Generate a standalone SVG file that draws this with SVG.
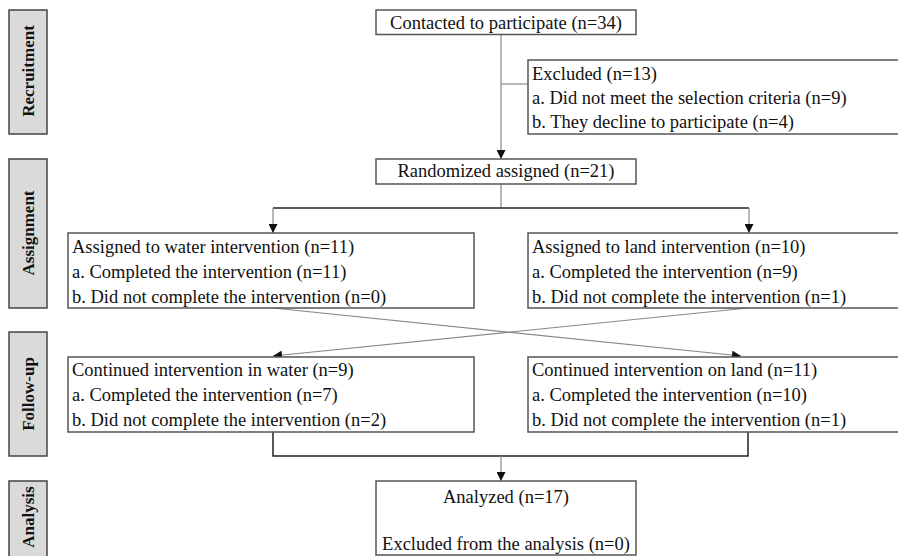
<svg xmlns="http://www.w3.org/2000/svg" width="898" height="556" viewBox="0 0 898 556">
<style>
.side rect{fill:#dadada;stroke:#444;stroke-width:1.5}
.side text{font-weight:bold;font-size:17px;fill:#111;text-anchor:middle}
.box rect{fill:#fff;stroke:#555;stroke-width:1.5}
.box text{font-size:18.5px;fill:#111}
.c{text-anchor:middle}
.thin{fill:none;stroke:#888;stroke-width:1.2}
.bold{fill:none;stroke:#222;stroke-width:1.5}
</style>
<defs>
<marker id="arr" viewBox="0 0 10 10" refX="10" refY="5" markerWidth="9" markerHeight="9" markerUnits="userSpaceOnUse" orient="auto">
<path d="M0,0 L10,5 L0,10 z" fill="#111"/>
</marker>
</defs>
<rect x="0" y="0" width="898" height="556" fill="#fff"/>
<g font-family="Liberation Serif, 'Times New Roman', 'DejaVu Serif', serif">
<g id="lbl-recruitment" class="side">
<rect x="9" y="10" width="38" height="124"/>
<text transform="translate(34,71) rotate(-90)">Recruitment</text>
</g>
<g id="lbl-assignment" class="side">
<rect x="9" y="159" width="38" height="149"/>
<text transform="translate(34,233) rotate(-90)">Assignment</text>
</g>
<g id="lbl-followup" class="side">
<rect x="9" y="332" width="38" height="124"/>
<text transform="translate(34,394) rotate(-90)">Follow-up</text>
</g>
<g id="lbl-analysis" class="side">
<rect x="9" y="481" width="38" height="80"/>
<text transform="translate(34,517) rotate(-90)">Analysis</text>
</g>

<g id="connectors">
<line class="thin" x1="501" y1="35" x2="501" y2="159" marker-end="url(#arr)"/>
<line class="thin" x1="501" y1="84" x2="528" y2="84"/>
<line class="thin" x1="501" y1="184" x2="501" y2="208"/>
<line class="bold" x1="273" y1="208" x2="749" y2="208"/>
<line class="thin" x1="273" y1="208" x2="273" y2="233" marker-end="url(#arr)"/>
<line class="thin" x1="749" y1="208" x2="749" y2="233" marker-end="url(#arr)"/>
<line class="thin" x1="273" y1="308" x2="741" y2="356" marker-end="url(#arr)"/>
<line class="thin" x1="748" y1="308" x2="273" y2="356" marker-end="url(#arr)"/>
<polyline class="bold" points="273,432 273,456 748,456 748,432"/>
<line class="thin" x1="501" y1="456" x2="501" y2="481" marker-end="url(#arr)"/>
</g>

<g id="contacted" class="box">
<rect x="376" y="10" width="260" height="24.5"/>
<text class="c" x="506" y="29">Contacted to participate (n=34)</text>
</g>
<g id="excluded" class="box">
<rect x="528" y="60" width="380" height="74"/>
<text x="532" y="80">Excluded (n=13)</text>
<text x="532" y="104">a. Did not meet the selection criteria (n=9)</text>
<text x="532" y="128">b. They decline to participate (n=4)</text>
</g>
<g id="randomized" class="box">
<rect x="376" y="159" width="260" height="25"/>
<text class="c" x="506" y="177">Randomized assigned (n=21)</text>
</g>
<g id="water" class="box">
<rect x="68" y="233" width="406" height="75"/>
<text x="72" y="253">Assigned to water intervention (n=11)</text>
<text x="72" y="278">a. Completed the intervention (n=11)</text>
<text x="72" y="303">b. Did not complete the intervention (n=0)</text>
</g>
<g id="land" class="box">
<rect x="528" y="233" width="380" height="75"/>
<text x="532" y="253">Assigned to land intervention (n=10)</text>
<text x="532" y="278">a. Completed the intervention (n=9)</text>
<text x="532" y="303">b. Did not complete the intervention (n=1)</text>
</g>
<g id="water-follow" class="box">
<rect x="68" y="357" width="406" height="75"/>
<text x="72" y="376">Continued intervention in water (n=9)</text>
<text x="72" y="401">a. Completed the intervention (n=7)</text>
<text x="72" y="426">b. Did not complete the intervention (n=2)</text>
</g>
<g id="land-follow" class="box">
<rect x="528" y="357" width="380" height="75"/>
<text x="532" y="376">Continued intervention on land (n=11)</text>
<text x="532" y="401">a. Completed the intervention (n=10)</text>
<text x="532" y="426">b. Did not complete the intervention (n=1)</text>
</g>
<g id="analyzed" class="box">
<rect x="376" y="481" width="260" height="74"/>
<text class="c" x="506" y="503">Analyzed (n=17)</text>
<text class="c" x="506" y="550">Excluded from the analysis (n=0)</text>
</g>
</g>
</svg>
